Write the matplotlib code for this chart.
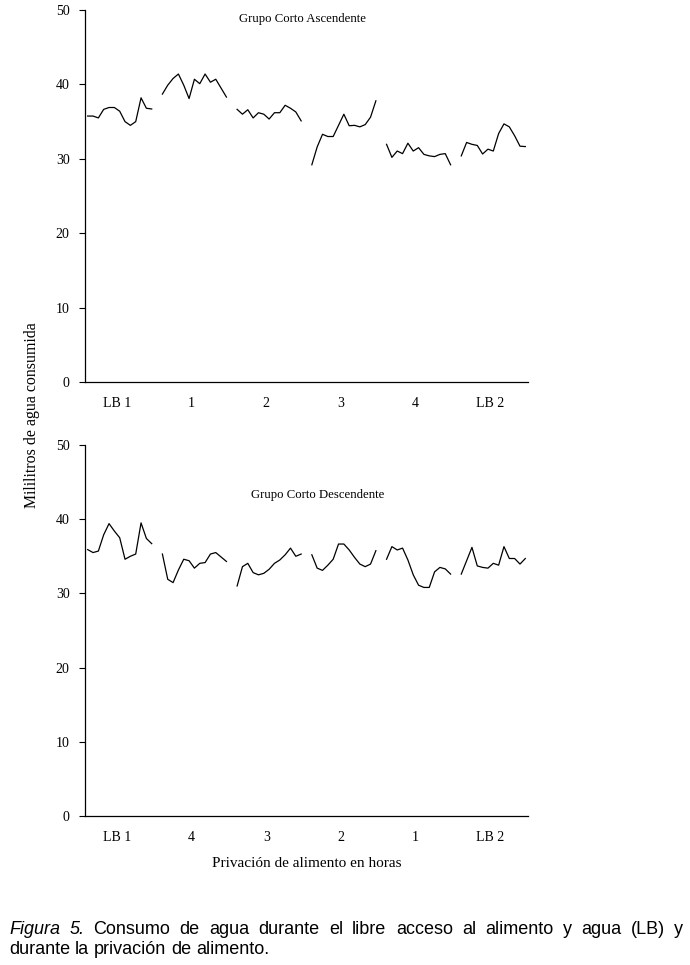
import numpy as np
import matplotlib
matplotlib.use("Agg")
import matplotlib.pyplot as plt

plt.rcParams['font.family'] = ['Liberation Serif', 'DejaVu Serif']

# water consumption (ml), 13 sessions per condition
asc_labels = ["LB 1", "1", "2", "3", "4", "LB 2"]
asc_values = [
    [35.75, 35.75, 35.5, 36.65, 36.9, 36.9, 36.4, 35.0, 34.5, 35.0, 38.2, 36.8, 36.7],
    [38.7, 39.9, 40.8, 41.4, 39.9, 38.1, 40.7, 40.1, 41.4, 40.3, 40.7, 39.5, 38.3],
    [36.65, 36.0, 36.6, 35.5, 36.2, 36.0, 35.35, 36.2, 36.2, 37.2, 36.8, 36.3, 35.1],
    [29.2, 31.6, 33.3, 33.0, 33.0, 34.5, 36.0, 34.45, 34.5, 34.3, 34.6, 35.6, 37.8],
    [31.95, 30.2, 31.05, 30.7, 32.1, 31.05, 31.5, 30.6, 30.4, 30.3, 30.6, 30.7, 29.2],
    [30.4, 32.2, 31.95, 31.8, 30.65, 31.3, 31.05, 33.4, 34.7, 34.3, 33.1, 31.7, 31.65],
]

desc_labels = ["LB 1", "4", "3", "2", "1", "LB 2"]
desc_values = [
    [35.9, 35.5, 35.7, 37.9, 39.4, 38.4, 37.5, 34.6, 35.0, 35.3, 39.5, 37.4, 36.7],
    [35.3, 31.9, 31.45, 33.15, 34.6, 34.4, 33.4, 34.05, 34.15, 35.3, 35.5, 34.9, 34.3],
    [31.0, 33.6, 34.05, 32.8, 32.5, 32.7, 33.25, 34.05, 34.5, 35.2, 36.1, 35.0, 35.3],
    [35.2, 33.4, 33.1, 33.8, 34.6, 36.65, 36.65, 35.85, 34.85, 33.95, 33.6, 33.95, 35.75],
    [34.6, 36.3, 35.85, 36.1, 34.5, 32.5, 31.1, 30.8, 30.8, 32.9, 33.5, 33.3, 32.6],
    [32.6, 34.4, 36.2, 33.7, 33.5, 33.4, 34.05, 33.8, 36.3, 34.7, 34.7, 33.95, 34.7],
]

caption_1 = "Figura 5. Consumo de agua durante el libre acceso al alimento y agua (LB) y"
caption_2 = "durante la privación de alimento."


def draw_panel(ax, labels, values, title):
    n = len(values[0])
    step = n + 1  # one empty slot between conditions
    centers = []
    for i, seg in enumerate(values):
        x = np.arange(n) + i * step
        ax.plot(x, seg, color='black', lw=0.9)
        centers.append(x.mean() - 0.55)
    ax.set_xlim(-0.5, len(values) * step - 1.5)
    ax.set_ylim(0, 50)
    ax.set_yticks([0, 10, 20, 30, 40, 50])
    ax.set_xticks(centers)
    ax.set_xticklabels(labels)
    ax.tick_params(axis='x', length=0, pad=11, labelsize=10)
    ax.tick_params(axis='y', direction='out', length=4, width=0.8, pad=7, labelsize=10)
    ax.spines['top'].set_visible(False)
    ax.spines['right'].set_visible(False)
    for s in ['left', 'bottom']:
        ax.spines[s].set_linewidth(0.9)
    return ax.text(0.49, 0.977, title, transform=ax.transAxes, ha='center',
                   va='center', fontsize=9.2)


fig = plt.figure(figsize=(6.9, 9.65), dpi=100)
ax1 = fig.add_axes([0.1232, 0.6041, 0.642, 0.3855])
ax2 = fig.add_axes([0.1232, 0.1544, 0.642, 0.3845])

draw_panel(ax1, asc_labels, asc_values, "Grupo Corto Ascendente")
t2 = draw_panel(ax2, desc_labels, desc_values, "Grupo Corto Descendente")
t2.set_position((0.525, 0.865))

ax2.set_xlabel("Privación de alimento en horas", fontsize=11, labelpad=9)
fig.text(0.047, 0.570, "Mililitros de agua consumida", rotation=90,
         ha='center', va='center', fontsize=11.4)

# justified caption, word by word
renderer = fig.canvas.get_renderer()
W, H = 690, 965
cap_font = dict(fontsize=13, family=['Liberation Sans', 'DejaVu Sans'])


def text_width(s):
    t = fig.text(0, 0, s, **cap_font)
    w = t.get_window_extent(renderer).width
    t.remove()
    return w


def caption_line(text, y_px, left_px, right_px=None):
    words = text.split(" ")
    arts = []
    for k, w in enumerate(words):
        st = 'italic' if k < 2 and text.startswith("Figura") else 'normal'
        arts.append(fig.text(0, 1 - y_px / H, w, style=st, va='center', **cap_font))
    widths = [a.get_window_extent(renderer).width for a in arts]
    if right_px is None:
        gap = text_width("a a") - text_width("aa")
    else:
        gap = (right_px - left_px - sum(widths)) / (len(words) - 1)
    x = left_px
    for a, w in zip(arts, widths):
        a.set_x(x / W)
        x += w + gap


caption_line(caption_1, 929, 9, 683)
caption_line(caption_2, 950, 9)

fig.savefig("out.png", dpi=100)
